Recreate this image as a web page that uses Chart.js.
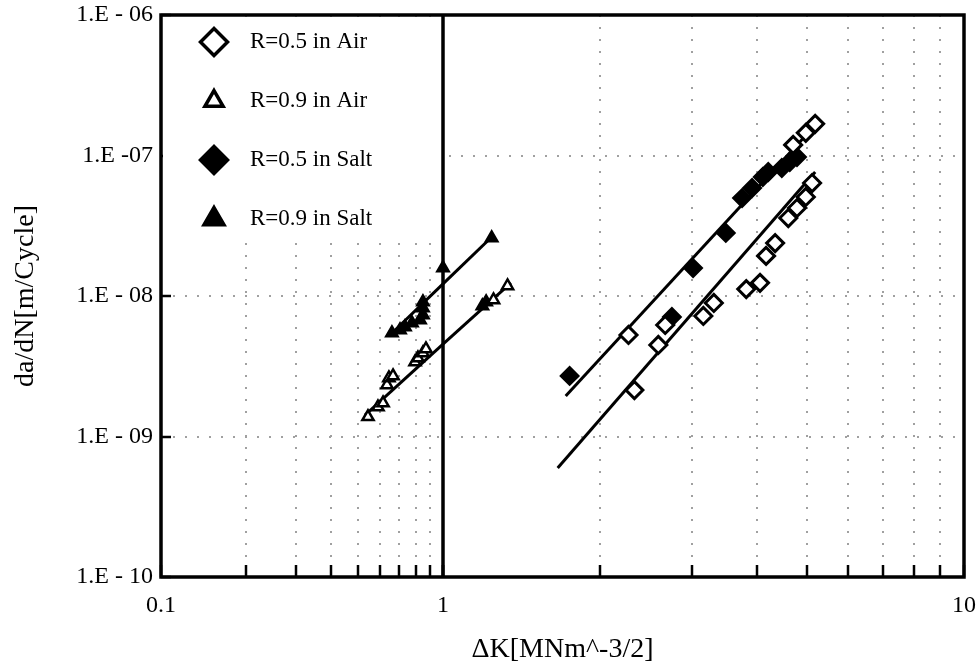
<!DOCTYPE html>
<html>
<head>
<meta charset="utf-8">
<script src="https://cdn.jsdelivr.net/npm/chart.js@4.4.0/dist/chart.umd.min.js"></script>
<style>
  html, body { margin: 0; padding: 0; background: #fff; }
  #wrap { width: 976px; height: 670px; }
</style>
</head>
<body>
<div id="wrap"><canvas id="crackChart" width="976" height="670"></canvas></div>
<script>
// Crack growth rate da/dN against ΔK
const airR05_dK    = [2.27, 2.33, 2.59, 2.67, 3.16, 3.31, 3.82, 4.06, 4.17, 4.34, 4.60, 4.78, 4.97, 5.11, 4.70, 4.97, 5.18];
const airR05_rate  = [5.28e-9, 2.14e-9, 4.48e-9, 6.22e-9, 7.21e-9, 8.92e-9, 1.12e-8, 1.24e-8, 1.93e-8, 2.38e-8, 3.59e-8, 4.23e-8, 5.07e-8, 6.37e-8, 1.19e-7, 1.45e-7, 1.68e-7];

const airR09_dK    = [0.542, 0.588, 0.613, 0.633, 0.643, 0.665, 0.796, 0.815, 0.849, 0.870, 1.25, 1.33];
const airR09_rate  = [1.38e-9, 1.62e-9, 1.73e-9, 2.33e-9, 2.61e-9, 2.70e-9, 3.39e-9, 3.62e-9, 3.93e-9, 4.20e-9, 9.37e-9, 1.18e-8];

const saltR05_dK   = [1.75, 2.75, 3.02, 3.49, 3.75, 3.92, 4.11, 4.21, 4.47, 4.63, 4.78];
const saltR05_rate = [2.70e-9, 7.09e-9, 1.58e-8, 2.81e-8, 4.98e-8, 5.87e-8, 7.03e-8, 7.63e-8, 8.15e-8, 8.99e-8, 9.76e-8];

const saltR09_dK   = [0.659, 0.704, 0.733, 0.776, 0.829, 0.849, 0.849, 0.849, 1.0, 1.19, 1.21, 1.24];
const saltR09_rate = [5.45e-9, 5.73e-9, 6.02e-9, 6.43e-9, 6.75e-9, 7.33e-9, 8.22e-9, 9.06e-9, 1.58e-8, 8.49e-9, 9.06e-9, 2.59e-8];

// fitted lines
const fitAirR05_dK    = [1.66, 5.18];
const fitAirR05_rate  = [5.97e-10, 7.63e-8];
const fitSaltR05_dK   = [1.72, 5.25];
const fitSaltR05_rate = [1.94e-9, 1.73e-7];
const fitAirR09_dK    = [0.529, 1, 1.35];
const fitAirR09_rate  = [1.42e-9, 4.55e-9, 1.24e-8];
const fitSaltR09_dK   = [0.649, 1, 1.24];
const fitSaltR09_rate = [5.28e-9, 1.22e-8, 2.63e-8];

// heavy line at ΔK = 1
const divider_dK   = [1, 1];
const divider_rate = [1e-10, 1e-6];

const seriesNames = ['R=0.5 in Air', 'R=0.9 in Air', 'R=0.5 in Salt', 'R=0.9 in Salt'];

const yTickValues = [1e-10, 1e-9, 1e-8, 1e-7, 1e-6];
const yTickLabels = ['1.E - 10', '1.E - 09', '1.E - 08', '1.E -07', '1.E - 06'];
const xLowTicks   = [0.1, 0.2, 0.3, 0.4, 0.5, 0.6, 0.7, 0.8, 0.9, 1];
const xHighTicks  = [1, 2, 3, 4, 5, 6, 7, 8, 9, 10];
const xLabelValues = [0.1, 1, 10];
const xLabelTexts  = ['0.1', '1', '10'];

const FONT = 'Liberation Serif';

function pts(dk, rate, keep) {
    return dk.map((x, i) => ({x: x, y: rate[i]})).filter(p => keep(p.x));
}
const upTo1 = x => x <= 1;
const over1 = x => x > 1;
const from1 = x => x >= 1;

function markers(label, dk, rate, axis, keep, shape, filled, r, bw) {
    return {
        type: 'scatter', label: label, xAxisID: axis,
        data: pts(dk, rate, keep),
        pointStyle: shape, pointRadius: r, pointHoverRadius: r,
        pointBorderWidth: bw, pointHoverBorderWidth: bw,
        pointBackgroundColor: filled ? '#000' : '#fff',
        pointBorderColor: '#000',
        backgroundColor: filled ? '#000' : '#fff', borderColor: '#000',
        clip: false,
        order: 1
    };
}

function line(dk, rate, axis, keep, width, ord) {
    return {
        type: 'line', xAxisID: axis,
        data: pts(dk, rate, keep),
        borderColor: '#000', borderWidth: width,
        pointRadius: 0, pointHoverRadius: 0,
        showLine: true, fill: false, tension: 0,
        clip: false,
        order: ord
    };
}

// legend look, one per series
const legendStyle = [
    {shape: 'rectRot', fill: '#fff', r: 13.5},
    {shape: 'triangle', fill: '#fff', r: 10.5},
    {shape: 'rectRot', fill: '#000', r: 13.5},
    {shape: 'triangle', fill: '#000', r: 11.5}
];

const framePlugin = {
    id: 'frame',
    beforeDatasetsDraw(chart) {
        const {ctx, chartArea: a} = chart;
        const xOne = chart.scales.x.getPixelForValue(1);
        ctx.save();
        ctx.fillStyle = '#fff';
        ctx.fillRect(a.left + 2, a.top + 2, xOne - a.left - 6, 226);
        seriesNames.forEach((name, i) => {
            const st = legendStyle[i];
            const cy = a.top + 27 + i * 59;
            ctx.fillStyle = st.fill;
            ctx.strokeStyle = '#000';
            ctx.lineWidth = 3.5;
            ctx.lineJoin = 'miter';
            Chart.helpers.drawPoint(ctx, {pointStyle: st.shape, radius: st.r, borderWidth: 3.5, rotation: 0}, a.left + 53, cy);
            ctx.fillStyle = '#000';
            ctx.font = '23px "' + FONT + '"';
            ctx.textBaseline = 'middle';
            ctx.textAlign = 'left';
            ctx.fillText(name, a.left + 89, cy);
        });
        ctx.restore();
    },
    afterDatasetsDraw(chart) {
        const {ctx, chartArea: a} = chart;
        ctx.save();
        ctx.strokeStyle = '#000';
        ctx.lineWidth = 3.5;
        ctx.strokeRect(a.left, a.top, a.right - a.left, a.bottom - a.top);
        ctx.restore();
    }
};

function noPad(s) {
    s.paddingLeft = 0; s.paddingRight = 0; s.paddingTop = 0; s.paddingBottom = 0;
}

const gridStyle = {
    color: '#a0a0a0', lineWidth: 2,
    tickColor: '#000', tickWidth: 2.5
};

function xScale(lo, hi, ticks, weight, keepLabel) {
    return {
        type: 'logarithmic', position: 'bottom',
        stack: 'dk', stackWeight: weight,
        min: lo, max: hi,
        afterBuildTicks: s => { s.ticks = ticks.map(v => ({value: v})); },
        afterFit: s => { s.height = 56.2; noPad(s); },
        grid: Object.assign({tickLength: -12}, gridStyle),
        border: {display: false, dash: [2, 10]},
        ticks: {
            autoSkip: false, maxRotation: 0, padding: 26,
            color: '#000', font: {family: FONT, size: 24},
            callback: v => {
                const i = xLabelValues.indexOf(v);
                return (i < 0 || !keepLabel(v)) ? '' : xLabelTexts[i];
            }
        }
    };
}

new Chart(document.getElementById('crackChart'), {
    type: 'scatter',
    data: {
        datasets: [
            markers(seriesNames[0], airR05_dK, airR05_rate, 'x2', over1, 'rectRot', false, 8.5, 3),
            markers(seriesNames[1], airR09_dK, airR09_rate, 'x', upTo1, 'triangle', false, 6.5, 2.5),
            markers(seriesNames[1], airR09_dK, airR09_rate, 'x2', over1, 'triangle', false, 6.5, 2.5),
            markers(seriesNames[2], saltR05_dK, saltR05_rate, 'x2', over1, 'rectRot', true, 9, 2),
            markers(seriesNames[3], saltR09_dK, saltR09_rate, 'x', upTo1, 'triangle', true, 7, 2),
            markers(seriesNames[3], saltR09_dK, saltR09_rate, 'x2', over1, 'triangle', true, 7, 2),
            line(fitAirR05_dK, fitAirR05_rate, 'x2', from1, 3, 2),
            line(fitSaltR05_dK, fitSaltR05_rate, 'x2', from1, 3, 2),
            line(fitAirR09_dK, fitAirR09_rate, 'x', upTo1, 3, 2),
            line(fitAirR09_dK, fitAirR09_rate, 'x2', from1, 3, 2),
            line(fitSaltR09_dK, fitSaltR09_rate, 'x', upTo1, 3, 2),
            line(fitSaltR09_dK, fitSaltR09_rate, 'x2', from1, 3, 2),
            line(divider_dK, divider_rate, 'x', upTo1, 3.5, 3)
        ]
    },
    options: {
        responsive: false,
        devicePixelRatio: 1,
        animation: false,
        layout: {padding: {left: 0, top: 15, right: 12, bottom: 0}},
        plugins: {
            legend: {display: false},
            tooltip: {enabled: false},
            title: {
                display: true, position: 'bottom', fullSize: false,
                text: 'ΔK[MNm^-3/2]', color: '#000',
                font: {family: FONT, size: 28, weight: 'normal'},
                padding: {top: 0, bottom: 3.2}
            }
        },
        scales: {
            x: xScale(0.1, 1, xLowTicks, 282, v => v <= 1),
            x2: xScale(1, 10, xHighTicks, 521, v => v > 1),
            y: {
                type: 'logarithmic', position: 'left',
                min: 1e-10, max: 1e-6,
                afterBuildTicks: s => { s.ticks = yTickValues.map(v => ({value: v})); },
                afterFit: s => { s.width = 161; noPad(s); },
                grid: Object.assign({tickLength: -10}, gridStyle),
                border: {display: false, dash: [2, 10]},
                ticks: {
                    autoSkip: false, padding: 18,
                    color: '#000', font: {family: FONT, size: 24},
                    callback: v => {
                        const i = yTickValues.indexOf(v);
                        return i < 0 ? '' : yTickLabels[i];
                    }
                },
                title: {
                    display: true, text: 'da/dN[m/Cycle]', color: '#000',
                    font: {family: FONT, size: 28},
                    padding: {top: 9, bottom: 0}
                }
            }
        }
    },
    plugins: [framePlugin]
});
</script>
</body>
</html>
